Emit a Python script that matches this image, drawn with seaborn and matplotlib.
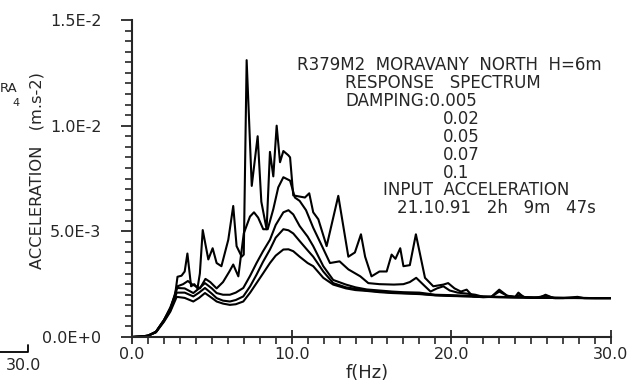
import numpy as np
import pandas as pd
import matplotlib
matplotlib.use("Agg")
import matplotlib.pyplot as plt
import seaborn as sns
from matplotlib.ticker import MultipleLocator

# ---------------- data (acceleration in units of 1e-3 m.s-2) ----------------
f_005 = [0, 0.5, 1.0, 1.5, 2.0, 2.4, 2.7, 2.85, 3.1, 3.3, 3.47, 3.7, 3.9, 4.1, 4.25,
         4.43, 4.78, 5.05, 5.3, 5.6, 6.03, 6.34, 6.55, 6.87, 7.0, 7.18, 7.5, 7.87, 8.1,
         8.43, 8.64, 8.85, 9.06, 9.27, 9.48, 9.79, 9.9, 10.1, 10.83, 11.1, 11.35, 11.67,
         12.19, 12.92, 13.55, 13.96, 14.34, 14.6, 15.0, 15.5, 15.95, 16.26, 16.5, 16.8,
         17.0, 17.4, 17.78, 18.35, 18.87, 19.5, 19.8, 20.2, 20.6, 20.96, 21.35, 22.0,
         22.5, 23.0, 23.5, 24.0, 24.2, 24.5, 25.0, 25.5, 25.9, 26.4, 27.0, 27.9, 28.3,
         29.0, 30.0]
a_005 = [0, 0.02, 0.06, 0.25, 0.8, 1.4, 2.0, 2.85, 2.9, 3.1, 3.95, 2.4, 2.5, 2.3, 3.0,
         5.06, 3.67, 4.2, 3.5, 3.35, 4.6, 6.2, 4.3, 3.8, 3.9, 13.1, 7.15, 9.5, 6.4,
         5.1, 8.76, 7.6, 10.0, 8.27, 8.8, 8.6, 8.5, 6.7, 6.6, 6.8, 5.9, 5.57,
         4.3, 6.68, 3.8, 4.0, 4.86, 3.8, 2.87, 3.1, 3.1, 3.9, 3.7, 4.2,
         3.35, 3.4, 4.86, 2.8, 2.4, 2.48, 2.55, 2.3, 2.15, 2.24, 1.92, 1.88,
         1.9, 2.24, 1.95, 1.9, 2.1, 1.9, 1.85, 1.85, 2.0, 1.84, 1.84, 1.9, 1.84,
         1.84, 1.84]

f_02 = [0, 0.5, 1.0, 1.5, 2.0, 2.4, 2.7, 2.85, 3.2, 3.5, 3.75, 4.0, 4.26, 4.6, 4.9,
        5.3, 5.7, 6.1, 6.34, 6.66, 7.0, 7.39, 7.64, 7.9, 8.22, 8.5, 8.85, 9.16, 9.48,
        9.9, 10.2, 10.5, 10.9, 11.35, 11.9, 12.4, 13.0, 13.55, 14.3, 14.8, 15.5, 16.4,
        17.0, 17.4, 17.8, 18.35, 18.7, 19.1, 19.5, 19.9, 20.4, 21.0, 21.5, 22.0, 22.5,
        23.0, 23.5, 24.0, 24.3, 24.6, 25.2, 25.9, 26.5, 27.2, 27.9, 28.4, 29.0, 30.0]
a_02 = [0, 0.02, 0.06, 0.25, 0.8, 1.35, 1.95, 2.4, 2.5, 2.65, 2.5, 2.4, 2.3, 2.75, 2.6,
        2.3, 2.6, 3.1, 3.43, 2.87, 4.9, 5.7, 5.9, 5.65, 5.1, 5.1, 6.05, 7.08, 7.56,
        7.4, 6.6, 6.44, 6.0, 5.17, 4.3, 3.5, 3.58, 3.2, 2.87, 2.55, 2.5, 2.48,
        2.5, 2.6, 2.8, 2.4, 2.15, 2.3, 2.4, 2.2, 2.1, 2.05, 2.0, 1.9, 1.9,
        2.15, 1.95, 1.9, 2.0, 1.88, 1.85, 1.95, 1.84, 1.84, 1.85, 1.84, 1.84, 1.84]

f_smooth = [0, 0.5, 1.0, 1.5, 2.0, 2.4, 2.8, 3.3, 3.84, 4.2, 4.57, 5.0, 5.3, 5.7, 6.13,
            6.5, 6.97, 7.4, 7.8, 8.2, 8.64, 9.0, 9.48, 9.8, 10.1, 10.5, 11.0, 11.35,
            11.98, 12.6, 13.4, 14.0, 14.7, 15.5, 16.3, 17.0, 18.0, 19.0, 20.0, 21.0,
            22.0, 23.0, 24.0, 25.0, 26.0, 27.0, 28.0, 29.0, 30.0]
a_05 = [0, 0.02, 0.06, 0.24, 0.78, 1.3, 2.32, 2.3, 2.08, 2.3, 2.55, 2.3, 2.08, 2.0, 2.0,
        2.1, 2.32, 2.9, 3.5, 4.05, 4.6, 5.3, 5.9, 6.0, 5.8, 5.25, 4.75, 4.3,
        3.35, 2.7, 2.48, 2.35, 2.25, 2.2, 2.15, 2.12, 2.1, 2.0, 1.98, 1.95,
        1.92, 1.9, 1.88, 1.87, 1.86, 1.85, 1.85, 1.84, 1.84]
a_07 = [0, 0.02, 0.06, 0.23, 0.75, 1.25, 2.1, 2.1, 1.92, 2.1, 2.32, 2.05, 1.84, 1.72, 1.68,
        1.75, 1.92, 2.4, 2.95, 3.55, 4.14, 4.7, 5.1, 5.05, 4.9, 4.54, 4.1, 3.8,
        3.1, 2.55, 2.35, 2.28, 2.2, 2.15, 2.1, 2.08, 2.05, 1.98, 1.95, 1.93,
        1.9, 1.89, 1.88, 1.87, 1.86, 1.85, 1.85, 1.84, 1.84]
a_1 = [0, 0.02, 0.06, 0.22, 0.72, 1.2, 1.9, 1.85, 1.68, 1.85, 2.08, 1.85, 1.68, 1.58, 1.52,
       1.55, 1.68, 2.1, 2.55, 3.0, 3.5, 3.85, 4.14, 4.15, 4.06, 3.8, 3.5, 3.35,
       2.8, 2.48, 2.3, 2.22, 2.18, 2.12, 2.08, 2.06, 2.03, 1.97, 1.94, 1.92,
       1.9, 1.88, 1.87, 1.86, 1.85, 1.85, 1.84, 1.84, 1.84]

damping_labels = ["0.005", "0.02", "0.05", "0.07", "0.1"]
y_ticks = [0.0, 5.0, 10.0, 15.0]
y_tick_labels = ["0.0E+0", "5.0E-3", "1.0E-2", "1.5E-2"]
x_ticks = [0, 10, 20, 30]
x_tick_labels = ["0.0", "10.0", "20.0", "30.0"]

series = [(f_005, a_005), (f_02, a_02), (f_smooth, a_05), (f_smooth, a_07), (f_smooth, a_1)]
frames = []
for lab, (fx, ay) in zip(damping_labels, series):
    frames.append(pd.DataFrame({"f": fx, "acc": ay, "damping": lab}))
df = pd.concat(frames, ignore_index=True)

# ---------------- figure ----------------
sns.set_style("ticks")
plt.rcParams["font.family"] = ["DejaVu Sans"]
W, H = 637, 388
fig = plt.figure(figsize=(W / 100, H / 100), dpi=100)
ax = fig.add_axes([132 / W, 1 - 337 / H, (611 - 132) / W, (337 - 20) / H])

sns.lineplot(data=df, x="f", y="acc", hue="damping", units="damping",
             palette=["black"] * 5, estimator=None, legend=False, ax=ax,
             linewidth=1.5)

ax.set_xlim(0, 30)
ax.set_ylim(0, 15)
ax.set_xticks(x_ticks)
ax.set_xticklabels(x_tick_labels, fontsize=11.5)
ax.set_yticks(y_ticks)
ax.set_yticklabels(y_tick_labels, fontsize=11.5)
ax.xaxis.set_minor_locator(MultipleLocator(1))
ax.yaxis.set_minor_locator(MultipleLocator(0.5))
ax.tick_params(axis="x", which="major", direction="inout", length=10, width=1.3, pad=2)
ax.tick_params(axis="x", which="minor", direction="out", length=5, width=1.2)
ax.tick_params(axis="y", which="major", direction="out", length=8, width=1.3, pad=14)
ax.tick_params(axis="y", which="minor", direction="out", length=5, width=1.2)
for s in ["top", "right"]:
    ax.spines[s].set_visible(False)
for s in ["left", "bottom"]:
    ax.spines[s].set_linewidth(1.5)
ax.set_xlabel("")
ax.set_ylabel("")
ax.patch.set_alpha(0)

def ftxt(x, y, s, **kw):
    fig.text(x / W, 1 - y / H, s, **kw)

ftxt(367, 373, "f(Hz)", ha="center", va="center", fontsize=13)
ftxt(37, 171, "ACCELERATION   (m.s-2)", ha="center", va="center", rotation=90, fontsize=11.7)

fs = 12
ftxt(297, 65, "R379M2  MORAVANY  NORTH  H=6m", ha="left", va="center", fontsize=fs)
ftxt(345, 83, "RESPONSE   SPECTRUM", ha="left", va="center", fontsize=fs)
ftxt(345, 101, "DAMPING:0.005", ha="left", va="center", fontsize=fs)
ftxt(443, 119, "0.02", ha="left", va="center", fontsize=fs)
ftxt(443, 137, "0.05", ha="left", va="center", fontsize=fs)
ftxt(443, 155, "0.07", ha="left", va="center", fontsize=fs)
ftxt(443, 173, "0.1", ha="left", va="center", fontsize=fs)
ftxt(383, 190, "INPUT  ACCELERATION", ha="left", va="center", fontsize=fs)
ftxt(397, 208, "21.10.91   2h   9m   47s", ha="left", va="center", fontsize=fs)

# fragments of the neighbouring chart at the left edge
ftxt(0, 88, "RA", ha="left", va="center", fontsize=9.5)
ftxt(12, 103, "4", ha="left", va="center", fontsize=8)
ftxt(24, 366, "30.0", ha="center", va="center", fontsize=11.5)
fig.add_artist(plt.Line2D([0, 28 / W, 28 / W], [1 - 352 / H, 1 - 352 / H, 1 - 345 / H],
                          transform=fig.transFigure, color="black", lw=1.3))

fig.savefig("out.png", dpi=100)
